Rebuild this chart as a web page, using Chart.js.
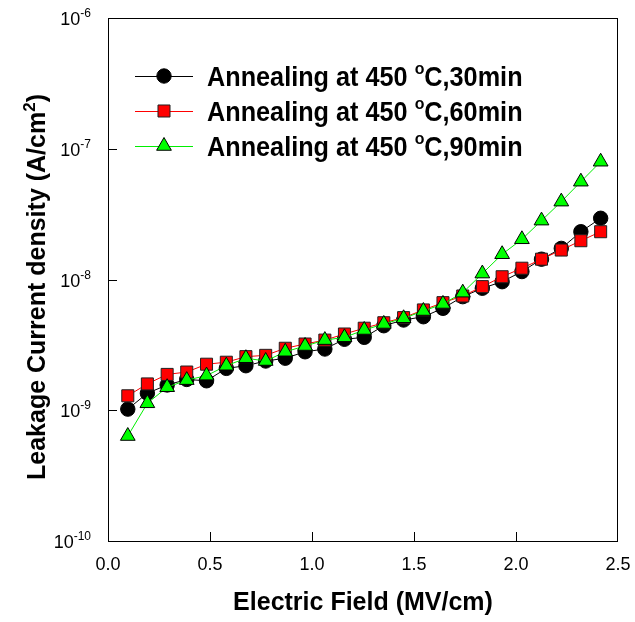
<!DOCTYPE html>
<html><head><meta charset="utf-8">
<script src="https://cdn.jsdelivr.net/npm/chart.js@4/dist/chart.umd.min.js"></script>
<style>html,body{margin:0;padding:0;background:#fff}canvas{display:block}</style>
</head><body>
<canvas id="c" width="635" height="622"></canvas>
<script>
// Electric field (MV/cm)
const fieldMVcm = [0.097,0.193,0.290,0.386,0.483,0.580,0.676,0.773,0.869,0.966,1.063,1.159,1.256,1.352,1.449,1.546,1.642,1.739,1.835,1.932,2.029,2.125,2.222,2.318,2.415];
// Leakage current density (A/cm^2)
const j30min = [1.02e-9,1.35e-9,1.56e-9,1.72e-9,1.68e-9,2.09e-9,2.19e-9,2.38e-9,2.50e-9,2.80e-9,2.94e-9,3.49e-9,3.61e-9,4.43e-9,4.90e-9,5.19e-9,6.02e-9,7.39e-9,8.57e-9,9.62e-9,1.15e-8,1.43e-8,1.73e-8,2.32e-8,2.94e-8];
const j60min = [1.29e-9,1.59e-9,1.88e-9,1.96e-9,2.25e-9,2.33e-9,2.57e-9,2.63e-9,2.98e-9,3.21e-9,3.44e-9,3.83e-9,4.24e-9,4.67e-9,5.11e-9,5.85e-9,6.65e-9,7.48e-9,8.82e-9,1.05e-8,1.22e-8,1.43e-8,1.68e-8,1.98e-8,2.32e-8];
const j90min = [6.35e-10,1.13e-9,1.50e-9,1.70e-9,1.84e-9,2.19e-9,2.50e-9,2.38e-9,2.80e-9,3.10e-9,3.44e-9,3.61e-9,4.11e-9,4.57e-9,5.05e-9,5.74e-9,6.50e-9,7.93e-9,1.11e-8,1.56e-8,2.03e-8,2.82e-8,3.94e-8,5.60e-8,7.96e-8];
const seriesLabels = ['Annealing at 450 °C,30min','Annealing at 450 °C,60min','Annealing at 450 °C,90min'];
const xTickValues = [0,0.5,1.0,1.5,2.0,2.5];
const xTickLabels = ['0.0','0.5','1.0','1.5','2.0','2.5'];
const yTickExponents = [-10,-9,-8,-7,-6];
const xTitle = 'Electric Field (MV/cm)';
const yTitleParts = ['Leakage Current density (A/cm','2',')'];

const FONT = '"Liberation Sans", Arial, Helvetica, sans-serif';
const toXY = arr => arr.map((v,i)=>({x:fieldMVcm[i], y:v}));

const styles = [
  {line:'#000000', fill:'#000000', stroke:'#000000', shape:'circle', r:7.2},
  {line:'#ff0000', fill:'#ff0000', stroke:'#202020', shape:'rect', r:8.5},
  {line:'#00ee00', fill:'#00ff00', stroke:'#000000', shape:'triangle', r:8.5}
];
const seriesData = [j30min, j60min, j90min];

function drawSupText(ctx, parts, x, y){
  let cx = x;
  for (const p of parts){
    ctx.font = p.font;
    ctx.fillText(p.t, cx, y + (p.dy||0));
    cx += ctx.measureText(p.t).width;
  }
  return cx - x;
}
function measureParts(ctx, parts){
  let w = 0;
  for (const p of parts){ ctx.font = p.font; w += ctx.measureText(p.t).width; }
  return w;
}
function drawMarker(ctx, st, x, y){
  ctx.save();
  ctx.fillStyle = st.fill; ctx.strokeStyle = st.stroke; ctx.lineWidth = 1;
  Chart.helpers.drawPoint(ctx, {pointStyle: st.shape, radius: st.r, borderWidth:1, rotation:0}, x, y);
  ctx.restore();
}

const axesPlugin = {
  id:'axesPlugin',
  afterDraw(chart){
    const ctx = chart.ctx, a = chart.chartArea;
    const xs = chart.scales.x, ys = chart.scales.y;
    ctx.save();
    ctx.fillStyle = '#000';
    ctx.strokeStyle = '#000';
    ctx.lineWidth = 1;
    // frame
    ctx.strokeRect(Math.round(a.left)+0.5, Math.round(a.top)+0.5, Math.round(a.right-a.left)-1, Math.round(a.bottom-a.top));
    // ticks (inside)
    ctx.beginPath();
    xTickValues.forEach(v=>{
      const px = Math.round(xs.getPixelForValue(v))+0.5;
      if (px > a.left+2 && px < a.right-2){ ctx.moveTo(px, a.bottom); ctx.lineTo(px, a.bottom-9); }
    });
    yTickExponents.forEach(e=>{
      const py = Math.round(ys.getPixelForValue(Math.pow(10,e)))+0.5;
      if (py > a.top+2 && py < a.bottom-2){ ctx.moveTo(a.left, py); ctx.lineTo(a.left+9, py); }
    });
    ctx.stroke();
    // x tick labels
    ctx.font = '18px ' + FONT;
    ctx.textAlign = 'center';
    ctx.textBaseline = 'middle';
    xTickValues.forEach((v,i)=>{
      ctx.fillText(xTickLabels[i], xs.getPixelForValue(v), a.bottom + 24);
    });
    // y tick labels
    ctx.textAlign = 'left';
    ctx.textBaseline = 'alphabetic';
    yTickExponents.forEach(e=>{
      const py = ys.getPixelForValue(Math.pow(10,e));
      const parts = [{t:'10', font:'18px '+FONT, dy:0},{t:String(e), font:'12px '+FONT, dy:-8}];
      const w = measureParts(ctx, parts);
      drawSupText(ctx, parts, a.left - 17 - w, py + 7);
    });
    // x title
    ctx.font = 'bold 25px ' + FONT;
    ctx.textAlign = 'center';
    ctx.textBaseline = 'middle';
    ctx.fillText(xTitle, (a.left+a.right)/2, 603);
    // y title
    ctx.textAlign = 'left';
    ctx.textBaseline = 'alphabetic';
    ctx.save();
    ctx.translate(36, 287);
    ctx.rotate(-Math.PI/2);
    const yp = [{t:yTitleParts[0], font:'bold 25px '+FONT, dy:0},{t:yTitleParts[1], font:'bold 17px '+FONT, dy:-10},{t:yTitleParts[2], font:'bold 25px '+FONT, dy:0}];
    const yw = measureParts(ctx, yp);
    drawSupText(ctx, yp, -yw/2, 9);
    ctx.restore();
    // legend
    const rows = [76, 111, 146];
    chart.data.datasets.forEach((ds, i)=>{
      const st = styles[i];
      const y = rows[i];
      ctx.strokeStyle = st.line; ctx.lineWidth = 1;
      ctx.beginPath(); ctx.moveTo(135, y+0.5); ctx.lineTo(193, y+0.5); ctx.stroke();
      drawMarker(ctx, st, 164, y);
      ctx.fillStyle = '#000';
      ctx.textAlign = 'left';
      ctx.textBaseline = 'alphabetic';
      const pieces = ds.label.split('°');
      const parts = [{t:pieces[0], font:'bold 27px '+FONT, dy:0},{t:'o', font:'bold 17px '+FONT, dy:-12},{t:pieces[1], font:'bold 27px '+FONT, dy:0}];
      ctx.save();
      ctx.translate(207, y + 10);
      ctx.scale(0.935, 1);
      drawSupText(ctx, parts, 0, 0);
      ctx.restore();
    });
    ctx.restore();
  }
};

const datasets = seriesData.map((d,i)=>({
  label: seriesLabels[i],
  data: toXY(d),
  borderColor: styles[i].line,
  borderWidth: 1,
  pointStyle: styles[i].shape,
  pointRadius: styles[i].r,
  pointBackgroundColor: styles[i].fill,
  pointBorderColor: styles[i].stroke,
  pointBorderWidth: 1,
  tension: 0,
  fill: false,
  order: 3 - i,
  clip: false
}));

new Chart(document.getElementById('c'), {
  type: 'line',
  data: { datasets },
  options: {
    responsive: false,
    animation: false,
    devicePixelRatio: 1,
    layout: { padding: { left: 108, right: 17, top: 18, bottom: 81 } },
    plugins: { legend: { display: false }, tooltip: { enabled: false } },
    scales: {
      x: { type: 'linear', min: 0, max: 2.5, display: false },
      y: { type: 'logarithmic', min: 1e-10, max: 1e-6, display: false }
    }
  },
  plugins: [axesPlugin]
});
</script>
</body></html>
